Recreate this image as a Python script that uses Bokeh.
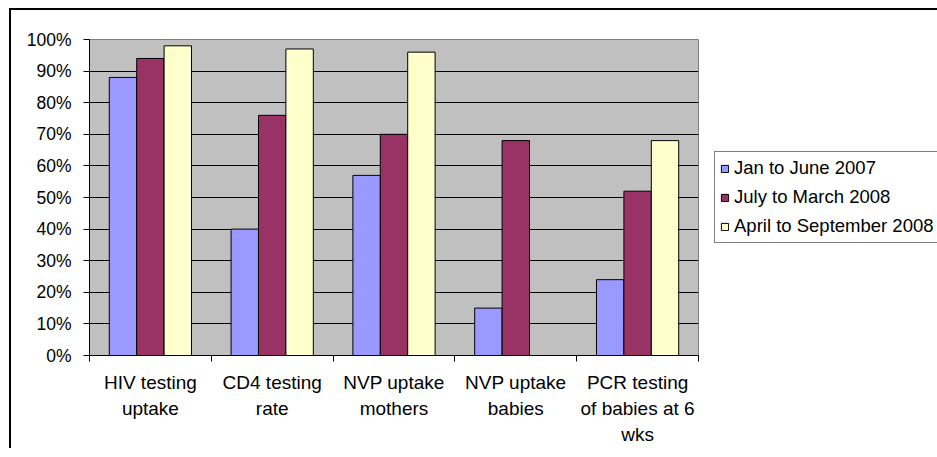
import math
from bokeh.plotting import figure
from bokeh.models import (Range1d, FixedTicker, PrintfTickFormatter, Legend, LegendItem,
                          ColumnDataSource)
from bokeh.embed import file_html
from bokeh.resources import INLINE

categories = ["HIV testing\nuptake", "CD4 testing\nrate", "NVP uptake\nmothers",
              "NVP uptake\nbabies", "PCR testing\nof babies at 6\nwks"]
series_names = ["Jan to June 2007", "July to March 2008", "April to September 2008"]
jan_june_2007 = [88, 40, 57, 15, 24]
july_march_2008 = [94, 76, 70, 68, 52]
april_sept_2008 = [98, 97, 96, float("nan"), 68]
y_ticks = list(range(0, 101, 10))

colors = ["#9999FF", "#993366", "#FFFFCC"]
FONT = "Liberation Sans"

p = figure(frame_width=609, frame_height=316, output_backend="svg", toolbar_location=None,
           x_range=Range1d(0, len(categories)), y_range=Range1d(0, 100),
           min_border_left=78, min_border_top=29, min_border_right=236, min_border_bottom=90)
p.background_fill_color = "#C0C0C0"
p.border_fill_color = "white"
p.outline_line_color = "#808080"
p.outline_line_width = 1
p.styles = {"border-left": "2px solid black", "border-top": "2px solid black",
            "margin-left": "9px", "margin-top": "8px"}

centers = [i + 0.5 for i in range(len(categories))]
bar_w = 0.225
renderers = []
for k, (vals, col) in enumerate(zip([jan_june_2007, july_march_2008, april_sept_2008], colors)):
    xs = [c + (k - 1) * bar_w for c in centers]
    src = ColumnDataSource(dict(x=xs, top=vals))
    r = p.vbar(x="x", top="top", bottom=0, width=bar_w, source=src,
               fill_color=col, line_color="black", line_width=1)
    renderers.append(r)

# axes
xa = p.xaxis[0]
xa.ticker = FixedTicker(ticks=centers, minor_ticks=list(range(len(categories) + 1)))
xa.major_label_overrides = {c: lab for c, lab in zip(centers, categories)}
xa.major_tick_out = 0
xa.major_tick_in = 0
xa.minor_tick_out = 6
xa.minor_tick_in = 0
xa.minor_tick_line_color = "black"
xa.axis_line_color = "black"
xa.major_label_text_font = FONT
xa.major_label_text_font_size = "19px"
xa.major_label_text_color = "black"
xa.major_label_text_line_height = 1.25
xa.major_label_standoff = 10

ya = p.yaxis[0]
ya.ticker = FixedTicker(ticks=y_ticks)
ya.formatter = PrintfTickFormatter(format="%d%%")
ya.major_tick_out = 6
ya.major_tick_in = 0
ya.minor_tick_line_color = None
ya.axis_line_color = "black"
ya.major_tick_line_color = "black"
ya.major_label_text_font = FONT
ya.major_label_text_font_size = "17.5px"
ya.major_label_text_color = "black"
ya.major_label_standoff = 12

p.xgrid.grid_line_color = None
p.ygrid.ticker = FixedTicker(ticks=y_ticks[1:-1])
p.ygrid.grid_line_color = "black"
p.ygrid.grid_line_width = 1

legend = Legend(items=[LegendItem(label=n, renderers=[r]) for n, r in zip(series_names, renderers)],
                location="center_left", margin=16, padding=5, spacing=7,
                glyph_width=9, glyph_height=9, label_height=22, label_standoff=5,
                label_text_font=FONT, label_text_font_size="18.5px", label_text_color="black",
                border_line_color="black", border_line_width=1,
                background_fill_color="white", background_fill_alpha=1)
p.add_layout(legend, "right")

open("out.html", "w").write(file_html(p, INLINE))
